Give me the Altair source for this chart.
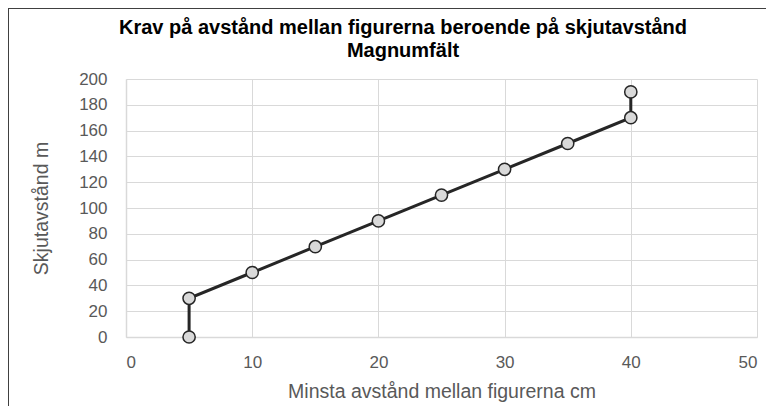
import altair as alt
import pandas as pd

x_vals = [5, 5, 10, 15, 20, 25, 30, 35, 40, 40]
y_vals = [0, 30, 50, 70, 90, 110, 130, 150, 170, 190]
title_lines = ["Krav på avstånd mellan figurerna beroende på skjutavstånd", "Magnumfält"]

df = pd.DataFrame({"x": x_vals, "y": y_vals, "o": list(range(len(x_vals)))})

FONT = "Liberation Sans"
GRID = "#d9d9d9"
LAB = "#595959"
FS = 17
TFS = 19.5

xenc = alt.X("x:Q", scale=alt.Scale(domain=[0, 50], nice=False),
             axis=alt.Axis(values=[0, 10, 20, 30, 40, 50], title="Minsta avstånd mellan figurerna cm",
                           grid=True, gridColor=GRID, domainColor=GRID, domainWidth=1.5, ticks=False,
                           labelPadding=17, titlePadding=12, labelFontSize=FS, titleFontSize=TFS,
                           labelColor=LAB, titleColor=LAB, labelFont=FONT, titleFont=FONT,
                           titleFontWeight="normal"))
yenc = alt.Y("y:Q", scale=alt.Scale(domain=[0, 200], nice=False),
             axis=alt.Axis(values=list(range(0, 201, 20)), title="Skjutavstånd m",
                           grid=True, gridColor=GRID, domainColor=GRID, domainWidth=1.5, ticks=False,
                           labelPadding=19, titlePadding=27, labelFontSize=FS, titleFontSize=TFS,
                           labelColor=LAB, titleColor=LAB, labelFont=FONT, titleFont=FONT,
                           titleFontWeight="normal"))

base = alt.Chart(df).encode(x=xenc, y=yenc, order="o:O")
line = base.mark_line(color="#262626", strokeWidth=3)
pts = base.mark_circle(size=150, fill="#d9d9d9", stroke="#262626", strokeWidth=1.5, opacity=1)

tdf = pd.DataFrame({"t": title_lines, "i": [0, 1]})
t1 = alt.Chart(tdf.iloc[[0]]).mark_text(font=FONT, fontSize=20, fontWeight="bold", color="#000000",
                                        align="center", baseline="middle").encode(
    text="t:N", x=alt.value(277), y=alt.value(-51))
t2 = alt.Chart(tdf.iloc[[1]]).mark_text(font=FONT, fontSize=20, fontWeight="bold", color="#000000",
                                        align="center", baseline="middle").encode(
    text="t:N", x=alt.value(277), y=alt.value(-28))

border_left = alt.Chart(df).mark_rule(color="#404040", strokeWidth=1, clip=False).encode(
    x=alt.value(-117.5), y=alt.value(-70.5), y2=alt.value(330))
border_top = alt.Chart(df).mark_rule(color="#404040", strokeWidth=1, clip=False).encode(
    x=alt.value(-117.5), x2=alt.value(640), y=alt.value(-70.5))

chart = alt.layer(line, pts, t1, t2, border_left, border_top).properties(
    width=631, height=258,
    autosize=alt.AutoSizeParams(type="none"),
    padding={"left": 118, "top": 71, "right": 14, "bottom": 69},
).configure_view(stroke=None)

chart.save("out.html", embed_options={"renderer": "svg", "actions": False})
